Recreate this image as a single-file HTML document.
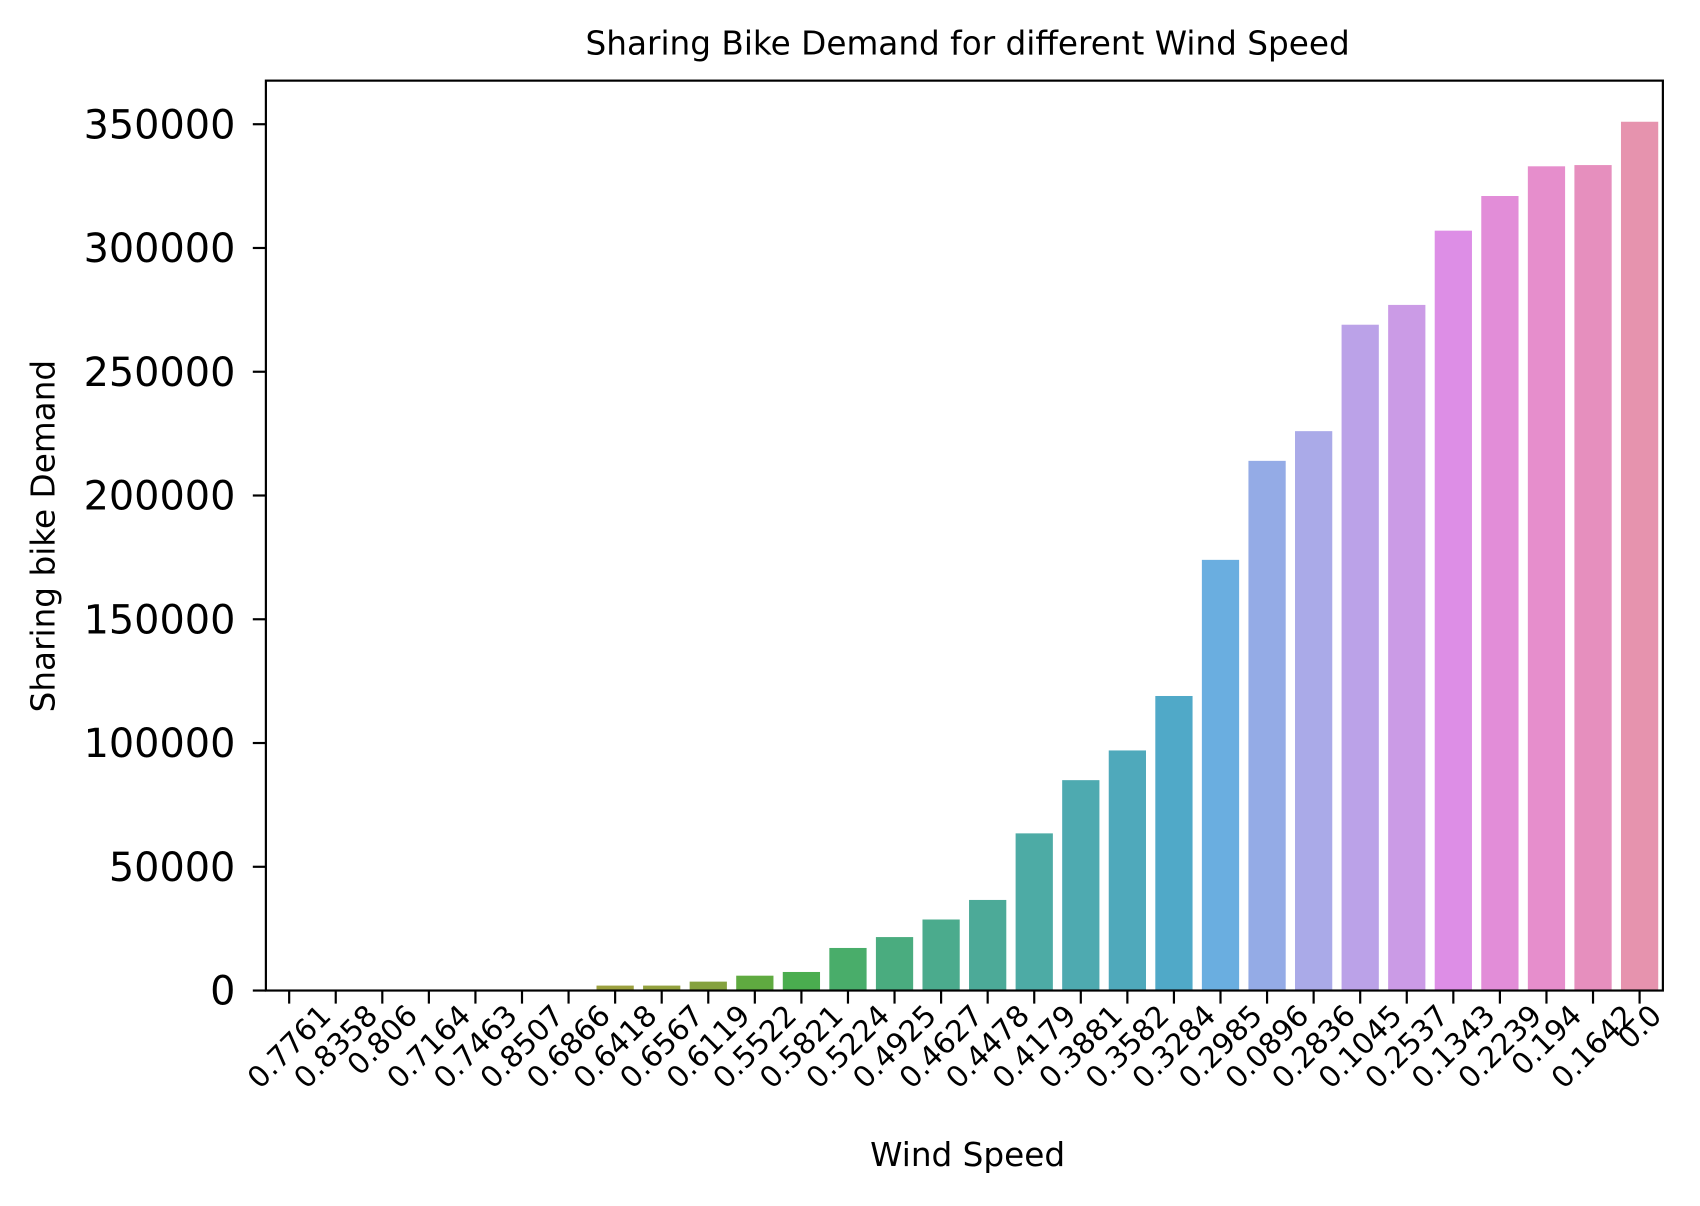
<!DOCTYPE html>
<html><head><meta charset="utf-8"><style>
body{margin:0;background:#fff}
text{font-family:"DejaVu Sans","Liberation Sans",sans-serif;fill:#000}
</style></head><body>
<svg id="chart" width="1700" height="1201" xmlns="http://www.w3.org/2000/svg">
<rect width="1700" height="1201" fill="#fff"/>
<g transform="scale(1.0897)">
<text x="888" y="50" font-size="30" text-anchor="middle">Sharing Bike Demand for different Wind Speed</text>
<text x="888" y="1070" font-size="30" text-anchor="middle">Wind Speed</text>
<text transform="translate(50,492) rotate(-90)" font-size="30" text-anchor="middle">Sharing bike Demand</text>
<g id="bars"></g><g id="xt"></g><g id="yt"></g>
<rect x="244" y="74" width="1282" height="835" fill="none" stroke="#000" stroke-width="2"/>
</g>
</svg>
<script>
const categories=["0.7761","0.8358","0.806","0.7164","0.7463","0.8507","0.6866","0.6418","0.6567","0.6119","0.5522","0.5821","0.5224","0.4925","0.4627","0.4478","0.4179","0.3881","0.3582","0.3284","0.2985","0.0896","0.2836","0.1045","0.2537","0.1343","0.2239","0.194","0.1642","0.0"];
const values=[60,80,100,150,200,300,400,2000,2000,3600,6000,7500,17200,21600,28700,36600,63500,85000,97000,119000,174000,214000,226000,269000,277000,307000,321000,333000,333500,351000];
const colors=["#e7897a","#e48a68","#de8f52","#d0943e","#c0983c","#b09b3d","#a39e3d","#9ba03f","#93a13e","#85a23f","#5faa40","#4aad4f","#49ad6a","#4aac7f","#4bab8d","#4caa98","#4daba5","#4eaab0","#4fa9bb","#50a9c8","#6aaee0","#94abe6","#aaaae8","#bba2e8","#cb9be6","#dd8ee6","#e28dd8","#e68ecc","#e68fbe","#e693ae"];
const yTicks=[0,50000,100000,150000,200000,250000,300000,350000];
const NS="http://www.w3.org/2000/svg";
const L=244,R=1526,Y0=909,Y350=114;
const slot=(R-L)/categories.length;
const xs=i=>L+slot*(i+0.5);
const ys=v=>Y0-(v/350000)*(Y0-Y350);
function mk(t,a){const e=document.createElementNS(NS,t);for(const k in a)e.setAttribute(k,a[k]);return e;}
const bars=document.getElementById('bars'),xt=document.getElementById('xt'),yt=document.getElementById('yt');
const XF=27;
categories.forEach((c,i)=>{
  const w=slot*0.8,x=xs(i);
  const r=mk('rect',{x:x-w/2,y:ys(values[i]),width:w,height:Y0-ys(values[i]),fill:colors[i]});
  
  
  bars.appendChild(r);
  const tk=mk('line',{x1:x,x2:x,y1:Y0,y2:Y0+12,stroke:'#000','stroke-width':2});
  
  
  xt.appendChild(tk);
  const t=mk('text',{'font-size':XF,'text-anchor':'middle','dominant-baseline':'central'});
  t.textContent=c;
  
  
  xt.appendChild(t);
  const len=t.getComputedTextLength();
  const cy=Y0+11+(len+XF*0.75)/2.83;
  t.setAttribute('transform',`translate(${x},${cy}) rotate(-45)`);
});
yTicks.forEach(v=>{
  const y=ys(v);
  const tk=mk('line',{x1:L-12,x2:L,y1:y,y2:y,stroke:'#000','stroke-width':2});
  
  
  yt.appendChild(tk);
  const t=mk('text',{x:L-28,y:y+13,'font-size':36.5,'text-anchor':'end'});
  t.textContent=String(v);
  
  
  yt.appendChild(t);
});
</script>
</body></html>
